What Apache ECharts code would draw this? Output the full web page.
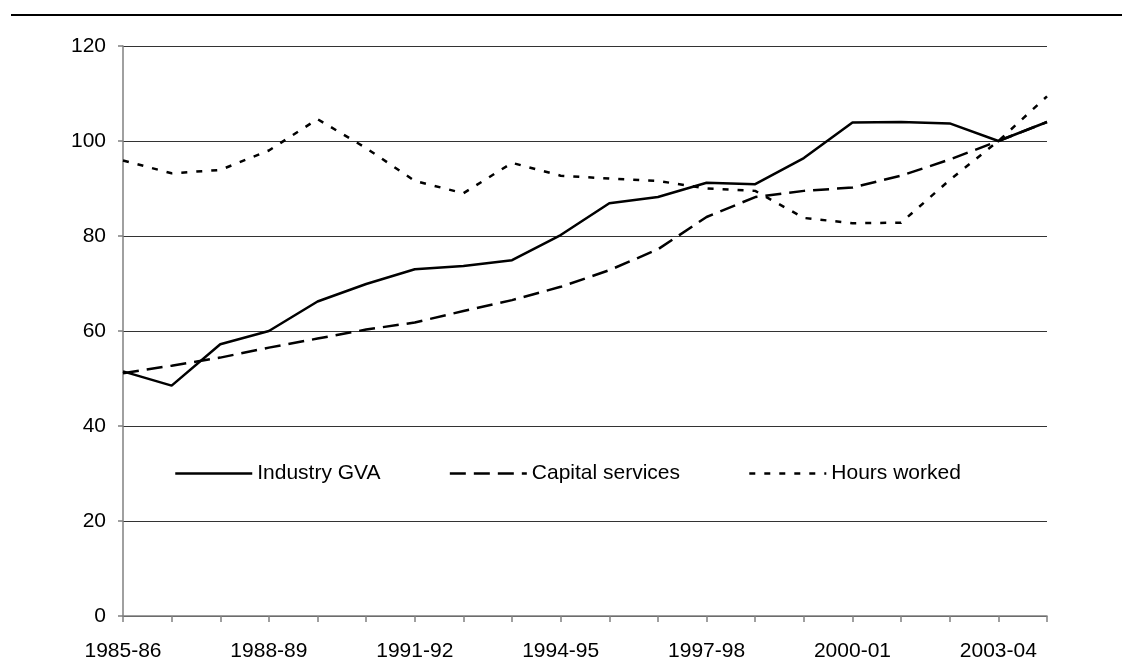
<!DOCTYPE html>
<html>
<head>
<meta charset="utf-8">
<script src="https://cdn.jsdelivr.net/npm/echarts@6/dist/echarts.min.js"></script>
<style>
html,body{margin:0;padding:0;background:#fff;}
#chart{width:1133px;height:666px;}
</style>
</head>
<body>
<div id="chart"></div>
<script>
var categories = ['1985-86','1986-87','1987-88','1988-89','1989-90','1990-91','1991-92','1992-93','1993-94','1994-95',
  '1995-96','1996-97','1997-98','1998-99','1999-00','2000-01','2001-02','2002-03','2003-04','2004-05'];
var industryGVA = [51.5, 48.5, 57.2, 60.0, 66.2, 69.9, 73.0, 73.7, 74.9, 80.2, 86.9, 88.2, 91.2, 90.9, 96.4, 103.9, 104.0, 103.7, 100.0, 104.0];
var capitalServices = [51.1, 52.7, 54.4, 56.5, 58.4, 60.3, 61.8, 64.2, 66.5, 69.3, 72.8, 77.2, 84.0, 88.2, 89.5, 90.2, 92.7, 96.1, 100.0, 104.0];
var hoursWorked = [95.9, 93.2, 93.9, 98.0, 104.6, 98.5, 91.6, 89.0, 95.4, 92.7, 92.1, 91.6, 90.0, 89.5, 83.8, 82.7, 82.8, 91.8, 100.0, 109.4];
var yTicks = {min: 0, max: 120, interval: 20};

var font = "'Liberation Sans', Arial, sans-serif";
var chart = echarts.init(document.getElementById('chart'));
chart.setOption({
  animation: false,
  backgroundColor: '#fff',
  graphic: [{
    type: 'line',
    shape: {x1: 11, y1: 15, x2: 1122, y2: 15},
    style: {stroke: '#000', lineWidth: 2}
  }],
  grid: {left: 123, right: 86, top: 46, bottom: 50},
  legend: {
    left: 174, top: 463, padding: 0,
    itemWidth: 77, itemHeight: 14, itemGap: 68,
    itemStyle: {opacity: 0},
    lineStyle: {width: 2.5},
    textStyle: {fontFamily: font, fontSize: 21, color: '#000'},
    data: ['Industry GVA', 'Capital services', 'Hours worked']
  },
  xAxis: {
    type: 'category',
    data: categories,
    boundaryGap: false,
    axisLine: {lineStyle: {color: '#808080', width: 1.5}},
    axisTick: {show: true, interval: 0, length: 6, lineStyle: {color: '#808080', width: 1.5}},
    axisLabel: {interval: 2, margin: 25, fontFamily: font, fontSize: 21, color: '#000'},
    splitLine: {show: false}
  },
  yAxis: {
    type: 'value',
    min: yTicks.min, max: yTicks.max, interval: yTicks.interval,
    axisLine: {show: true, lineStyle: {color: '#808080', width: 1.5}},
    axisTick: {show: true, length: 5, lineStyle: {color: '#808080', width: 1.5}},
    axisLabel: {margin: 17, fontFamily: font, fontSize: 21, color: '#000'},
    splitLine: {show: true, lineStyle: {color: '#333', width: 1}}
  },
  series: [
    {name: 'Industry GVA', type: 'line', data: industryGVA, symbol: 'none', showSymbol: false, color: '#000',
     lineStyle: {color: '#000', width: 2.5, type: 'solid'}},
    {name: 'Capital services', type: 'line', data: capitalServices, symbol: 'none', showSymbol: false, color: '#000',
     lineStyle: {color: '#000', width: 2.5, type: [16, 8]}},
    {name: 'Hours worked', type: 'line', data: hoursWorked, symbol: 'none', showSymbol: false, color: '#000',
     lineStyle: {color: '#000', width: 2.5, type: [6, 9]}}
  ]
});
</script>
</body>
</html>
